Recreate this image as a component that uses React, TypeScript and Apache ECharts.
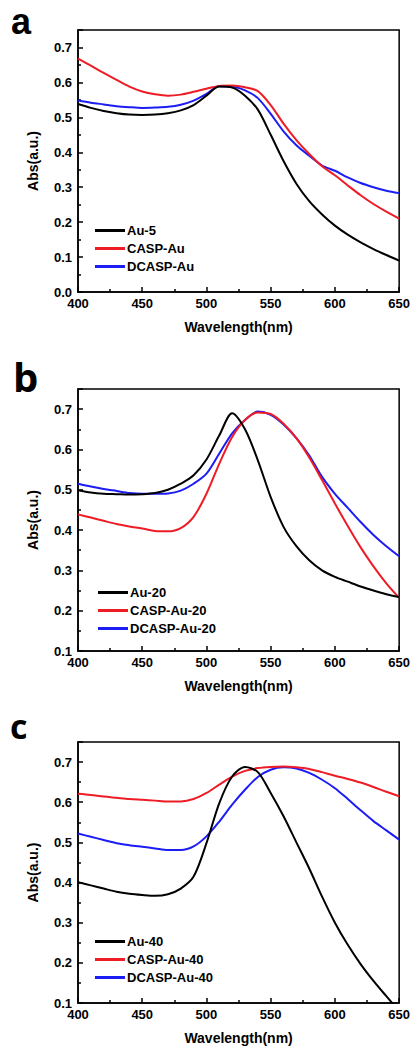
import React, { useEffect, useRef } from "react";
import * as echarts from "echarts";

// ---------- data ----------
const xTicks = [400, 450, 500, 550, 600, 650];
const panelLetters = ["a", "b", "c"];

// wavelengths shared by all curves (nm)
const wavelengths = [400, 410, 420, 430, 440, 450, 460, 470, 480, 490, 500, 510, 520, 530, 540, 550, 560, 570, 580, 590, 600, 610, 620, 630, 640, 650];

// panel a
const namesA = ["Au-5", "CASP-Au", "DCASP-Au"];
const au5 = [0.538, 0.527, 0.518, 0.512, 0.508, 0.507, 0.508, 0.512, 0.52, 0.535, 0.562, 0.588, 0.585, 0.562, 0.522, 0.45, 0.375, 0.31, 0.26, 0.222, 0.19, 0.164, 0.142, 0.123, 0.106, 0.09];
const caspAu = [0.668, 0.648, 0.627, 0.607, 0.588, 0.574, 0.566, 0.562, 0.565, 0.573, 0.582, 0.59, 0.591, 0.586, 0.575, 0.535, 0.482, 0.435, 0.395, 0.36, 0.334, 0.305, 0.277, 0.252, 0.23, 0.21];
const dcaspAu = [0.548, 0.542, 0.537, 0.532, 0.529, 0.527, 0.528, 0.53, 0.536, 0.548, 0.567, 0.589, 0.588, 0.577, 0.555, 0.51, 0.46, 0.42, 0.39, 0.362, 0.347, 0.328, 0.312, 0.3, 0.29, 0.283];

// panel b
const namesB = ["Au-20", "CASP-Au-20", "DCASP-Au-20"];
const au20 = [0.499, 0.493, 0.49, 0.489, 0.488, 0.489, 0.492, 0.5, 0.515, 0.536, 0.575, 0.635, 0.69, 0.65, 0.573, 0.482, 0.408, 0.36, 0.325, 0.3, 0.284, 0.272, 0.26, 0.25, 0.241, 0.234];
const caspAu20 = [0.439, 0.431, 0.423, 0.415, 0.409, 0.404, 0.398, 0.397, 0.405, 0.433, 0.49, 0.565, 0.631, 0.673, 0.692, 0.688, 0.664, 0.628, 0.58, 0.524, 0.466, 0.41, 0.357, 0.31, 0.268, 0.232];
const dcaspAu20 = [0.515, 0.508, 0.502, 0.497, 0.492, 0.49, 0.49, 0.491, 0.498, 0.515, 0.54, 0.59, 0.64, 0.673, 0.694, 0.686, 0.662, 0.628, 0.585, 0.532, 0.49, 0.455, 0.42, 0.388, 0.36, 0.335];

// panel c
const namesC = ["Au-40", "CASP-Au-40", "DCASP-Au-40"];
const au40 = [0.401, 0.393, 0.385, 0.377, 0.372, 0.369, 0.367, 0.371, 0.385, 0.415, 0.498, 0.598, 0.664, 0.688, 0.675, 0.623, 0.565, 0.5, 0.435, 0.365, 0.3, 0.245, 0.197, 0.155, 0.117, 0.08];
const caspAu40 = [0.621, 0.618, 0.614, 0.611, 0.608, 0.606, 0.604, 0.602, 0.602, 0.608, 0.623, 0.644, 0.664, 0.678, 0.685, 0.688, 0.689, 0.687, 0.683, 0.675, 0.666, 0.658, 0.649, 0.638, 0.626, 0.615];
const dcaspAu40 = [0.522, 0.514, 0.506, 0.498, 0.493, 0.489, 0.485, 0.481, 0.481, 0.49, 0.515, 0.552, 0.594, 0.631, 0.663, 0.681, 0.687, 0.684, 0.673, 0.656, 0.635, 0.608, 0.58, 0.553, 0.53, 0.507];

const yMins = [0, 0.1, 0.1];
const yMax = 0.75;

const colors = ["#000000", "#ee1c25", "#1c1cf5"];

// ---------- chart ----------
const FONT = "'Liberation Sans', Arial, sans-serif";

const zip = (xs: number[], ys: number[]) => xs.map((x, i) => [x, ys[i]]);

export default function App() {
  const ref = useRef<HTMLDivElement>(null);

  useEffect(() => {
    if (!ref.current) return;
    const chart = echarts.init(ref.current, undefined, { renderer: "svg" });

    const grids = [
      { left: 78, right: 13, top: 30, height: 262 },
      { left: 78, right: 13, top: 389, height: 262 },
      { left: 78, right: 13, top: 742, height: 261 },
    ];
    const legendPos = [
      { left: 95, top: 224 },
      { left: 98, top: 586 },
      { left: 95, top: 935 },
    ];
    const panels = [
      { names: namesA, ys: [au5, caspAu, dcaspAu] },
      { names: namesB, ys: [au20, caspAu20, dcaspAu20] },
      { names: namesC, ys: [au40, caspAu40, dcaspAu40] },
    ];

    const axisLine = { show: true, lineStyle: { color: "#000", width: 1.5 } };
    const labelStyle = { color: "#000", fontFamily: FONT, fontWeight: "bold" as const, fontSize: 13 };
    const nameStyle = { color: "#000", fontFamily: FONT, fontWeight: "bold" as const, fontSize: 14 };

    const series: any[] = [];
    panels.forEach((p, gi) => {
      p.ys.forEach((vals, si) => {
        series.push({
          type: "line",
          name: p.names[si],
          xAxisIndex: gi,
          yAxisIndex: gi,
          data: zip(wavelengths, vals),
          smooth: 0.3,
          showSymbol: false,
          symbol: "none",
          clip: true,
          lineStyle: { color: colors[si], width: 2 },
          itemStyle: { color: colors[si] },
          z: 3 - si,
        });
      });
    });

    const letterPos = [
      { x: 11, y: 21, size: 36, font: "'Liberation Sans', Arial, sans-serif" },
      { x: 13, y: 376, size: 40, font: "'Open Sans', sans-serif" },
      { x: 10, y: 726, size: 34, font: "'Open Sans', sans-serif" },
    ];

    chart.setOption({
      animation: false,
      grid: grids.map((g) => ({ ...g, show: true, borderColor: "#000", borderWidth: 1.5, backgroundColor: "transparent" })),
      xAxis: grids.map((_, gi) => ({
        type: "value",
        gridIndex: gi,
        min: xTicks[0],
        max: xTicks[xTicks.length - 1],
        interval: 50,
        name: "Wavelength(nm)",
        nameLocation: "middle",
        nameGap: 28,
        nameTextStyle: nameStyle,
        axisLine,
        axisTick: { show: true, inside: true, length: 5, lineStyle: { color: "#000", width: 1.5 } },
        minorTick: { show: true, splitNumber: 2, length: 3, lineStyle: { color: "#000", width: 1.5 } },
        splitLine: { show: false },
        axisLabel: { ...labelStyle, margin: 5 },
      })),
      yAxis: grids.map((_, gi) => ({
        type: "value",
        gridIndex: gi,
        min: yMins[gi],
        max: yMax,
        interval: 0.1,
        name: "Abs(a.u.)",
        nameLocation: "middle",
        nameGap: 38,
        nameTextStyle: nameStyle,
        axisLine,
        axisTick: { show: true, inside: true, length: 5, lineStyle: { color: "#000", width: 1.5 } },
        minorTick: { show: true, splitNumber: 2, length: 3, lineStyle: { color: "#000", width: 1.5 } },
        splitLine: { show: false },
        axisLabel: {
          ...labelStyle,
          margin: 6,
          showMaxLabel: false,
          formatter: (v: number) => v.toFixed(1),
        },
      })),
      legend: panels.map((p, gi) => ({
        data: p.names,
        orient: "vertical",
        left: legendPos[gi].left,
        top: legendPos[gi].top,
        padding: 0,
        itemGap: 5,
        itemWidth: 30,
        itemHeight: 3,
        icon: "rect",
        selectedMode: false,
        textStyle: { ...labelStyle, padding: [0, 0, 0, -3] },
      })),
      graphic: panelLetters.map((t, i) => ({
        type: "text",
        x: letterPos[i].x,
        y: letterPos[i].y,
        style: {
          text: t,
          fill: "#000",
          fontFamily: letterPos[i].font,
          fontWeight: "bold",
          fontSize: letterPos[i].size,
          textVerticalAlign: "middle",
        },
      })),
      series,
    });

    return () => chart.dispose();
  }, []);

  return (
    <div
      ref={ref}
      style={{ position: "absolute", left: 0, top: 0, width: 413, height: 1052, background: "#fff" }}
    />
  );
}
